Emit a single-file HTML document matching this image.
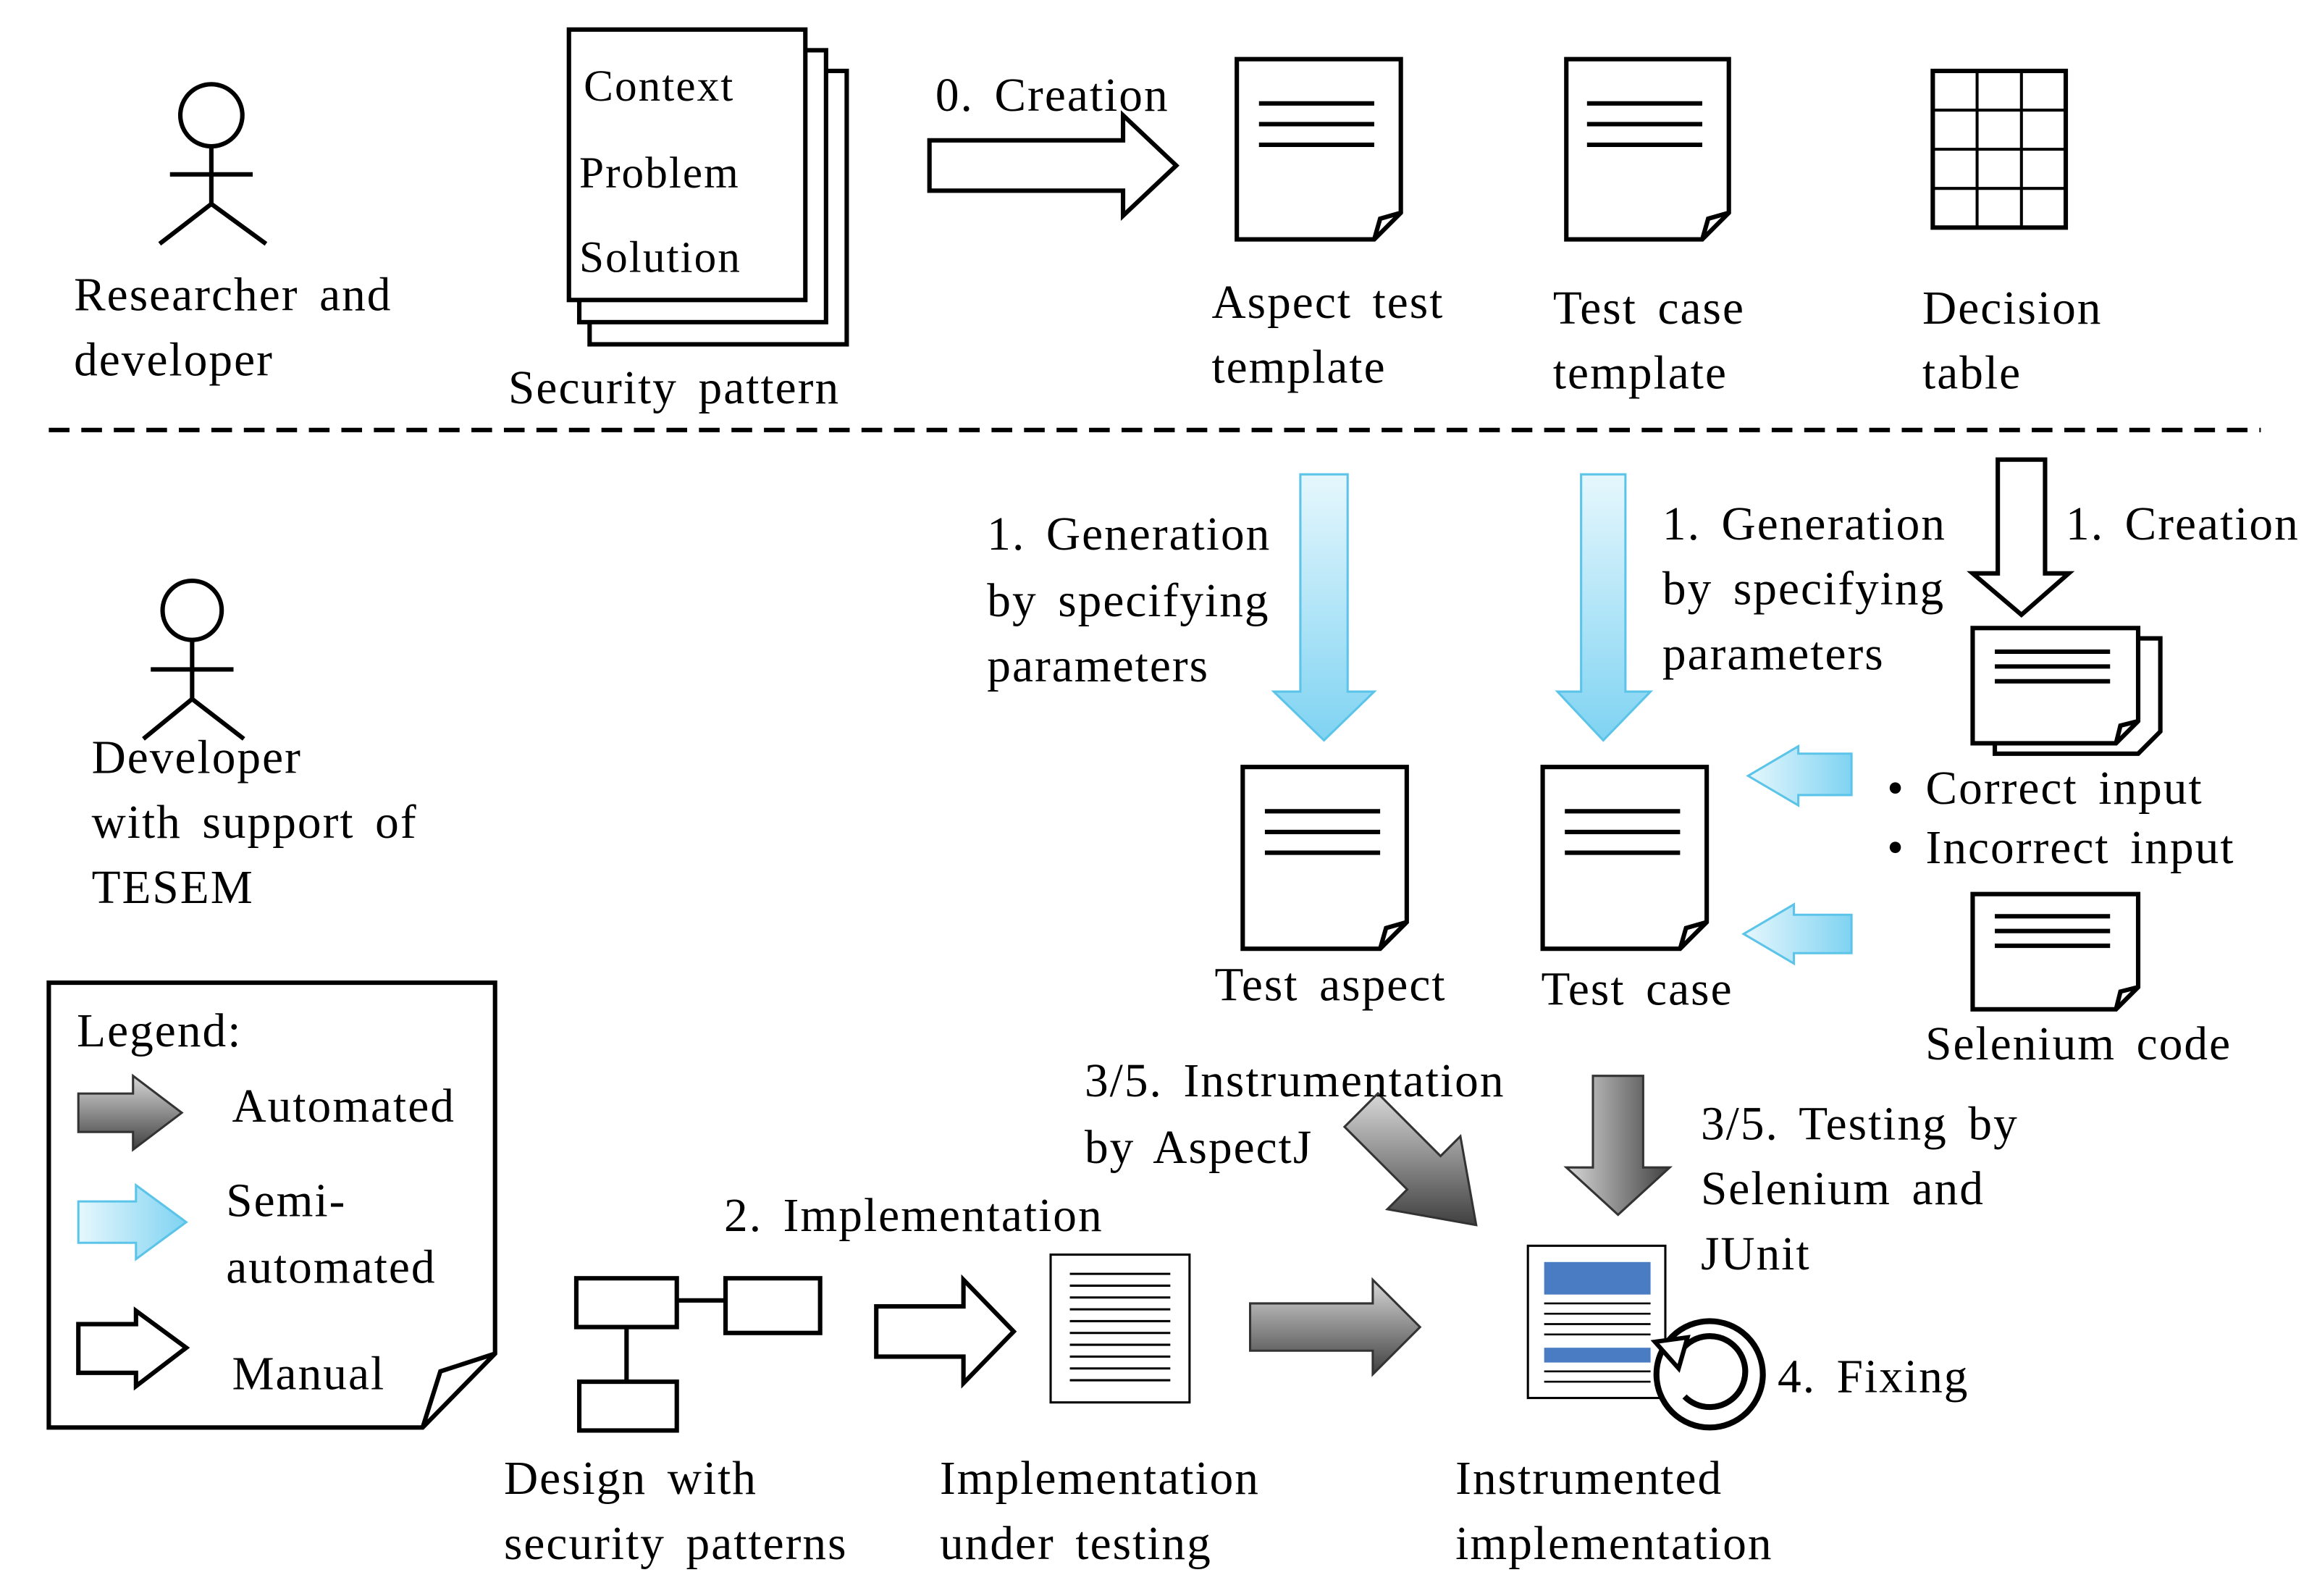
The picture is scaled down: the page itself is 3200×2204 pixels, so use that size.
<!DOCTYPE html>
<html><head><meta charset="utf-8"><style>html,body{margin:0;padding:0;background:#fff}svg{display:block}</style></head><body>
<svg width="3200" height="2204" viewBox="0 0 1568 1080" xmlns="http://www.w3.org/2000/svg" font-family="Liberation Serif, serif" font-size="32" fill="#000">
<defs>
<linearGradient id="lb" x1="0" y1="0" x2="1" y2="0"><stop offset="0" stop-color="#e6f7fd"/><stop offset="1" stop-color="#7fd3f2"/></linearGradient>
<linearGradient id="lbv" x1="0" y1="0" x2="0" y2="1"><stop offset="0" stop-color="#e6f7fd"/><stop offset="1" stop-color="#7fd3f2"/></linearGradient>
<linearGradient id="gr" x1="0" y1="0" x2="0" y2="1"><stop offset="0" stop-color="#d8d8d8"/><stop offset="1" stop-color="#404040"/></linearGradient>
<linearGradient id="grh" x1="0" y1="0" x2="1" y2="0"><stop offset="0" stop-color="#d8d8d8"/><stop offset="1" stop-color="#404040"/></linearGradient>
</defs>
<g stroke="#000" stroke-width="3" fill="none">
<circle cx="143" cy="78" r="21" fill="#fff"/><path d="M143 99V138M115 118H171M143 138L108 165M143 138L180 165"/>
<circle cx="130" cy="413" r="20" fill="#fff"/><path d="M130 433V473M102 453H158M130 473L97 500M130 473L165 500"/>
<rect x="399" y="48" width="174" height="185" fill="#fff"/>
<rect x="392" y="34" width="167" height="184" fill="#fff"/>
<rect x="385" y="20" width="160" height="183" fill="#fff"/>
<path d="M629 95H760V78L796 112L760 146V129H629Z" fill="#fff"/>
<path d="M837 40H948V144L930 162H837Z M930 162L934 148L948 144" fill="#fff"/>
<path d="M852 70H930M852 84H930M852 98H930"/>
<path d="M1060 40H1170V144L1152 162H1060Z M1152 162L1156 148L1170 144" fill="#fff"/>
<path d="M1074 70H1152M1074 84H1152M1074 98H1152"/>
<rect x="1308" y="48" width="90" height="106"/>
<path d="M1338 48V154M1368 48V154M1308 74.5H1398M1308 101H1398M1308 127.5H1398" stroke-width="2"/>
<path d="M33 291H1530" stroke-dasharray="14 8"/>
<path d="M1352 311H1384V388H1400L1368 416L1335 388H1352Z" fill="#fff"/>
<path d="M1350 432H1462V495L1447 510H1350Z" fill="#fff"/>
<path d="M1335 425H1447V488L1432 503H1335Z M1432 503L1435 491L1447 488" fill="#fff"/>
<path d="M1350 441H1428M1350 451H1428M1350 461H1428"/>
<path d="M1335 605H1447V668L1432 683H1335Z M1432 683L1435 671L1447 668" fill="#fff"/>
<path d="M1350 620H1428M1350 630H1428M1350 640H1428"/>
<path d="M841 519H952V624L934 642H841Z M934 642L938 628L952 624" fill="#fff"/>
<path d="M856 549H934M856 563H934M856 577H934"/>
<path d="M1044 519H1155V624L1137 642H1044Z M1137 642L1141 628L1155 624" fill="#fff"/>
<path d="M1059 549H1137M1059 563H1137M1059 577H1137"/>
<path d="M33 665H335V916L286 966H33Z M286 966L298 928L335 916" fill="#fff"/>
<path d="M53 896H92V887L126 912L92 938V929H53Z" fill="#fff"/>
<rect x="390" y="865" width="68" height="33"/><rect x="491" y="865" width="64" height="37"/><rect x="392" y="935" width="66" height="33"/>
<path d="M458 880H491M424 898V935"/>
<path d="M593 884H652V866L686 901L652 936V918H593Z" fill="#fff"/>
</g>
<g stroke="#5bc4e8" stroke-width="1.5">
<path d="M880 321H912V468H930L896 501L862 468H880Z" fill="url(#lbv)"/>
<path d="M1070 321H1100V468H1117L1085 501L1054 468H1070Z" fill="url(#lbv)"/>
<path d="M1253 510H1217V505L1183 525L1217 545V538H1253Z" fill="url(#lb)"/>
<path d="M1253 619H1214V612L1180 632L1214 652V645H1253Z" fill="url(#lb)"/>
<path d="M53 813H92V802L126 827L92 852V841H53Z" fill="url(#lb)"/>
</g>
<g stroke="#333" stroke-width="1.5">
<path d="M53 740H90V728L123 753L90 778V766H53Z" fill="url(#gr)"/>
<path d="M1078 728H1112V790H1130L1095 822L1060 790H1078Z" fill="url(#grh)"/>
<path d="M932.5 739.9L974.9 782.3L988.3 768.9L999 829L938.9 818.3L952.3 804.9L909.9 762.5Z" fill="url(#gr)"/>
<path d="M846 882H929V866L961 898L929 930V914H846Z" fill="url(#gr)"/>
</g>
<rect x="711" y="849" width="94" height="100" fill="#fff" stroke="#000" stroke-width="1.5"/>
<g stroke="#000" stroke-width="1.5">
<path d="M724 862H792M724 870H792M724 878H792M724 886H792M724 894H792M724 902H792M724 910H792M724 918H792M724 926H792M724 934H792"/>
</g>
<rect x="1034" y="843" width="93" height="103" fill="#fff" stroke="#000" stroke-width="1.5"/>
<rect x="1045" y="854" width="72" height="22" fill="#4a7cc4"/>
<rect x="1045" y="912" width="72" height="10" fill="#4a7cc4"/>
<g stroke="#000" stroke-width="1.3"><path d="M1045 882H1117M1045 889H1117M1045 896H1117M1045 903H1117M1045 928H1117M1045 935H1117"/></g>
<circle cx="1157" cy="930" r="36" fill="#fff" stroke="#000" stroke-width="4"/>
<path d="M1137 915A24 24 0 1 1 1140 945" fill="none" stroke="#000" stroke-width="4"/>
<path d="M1120 908L1142 905L1136 926Z" fill="#fff" stroke="#000" stroke-width="3"/>
<g letter-spacing="1" word-spacing="5">
<text x="50" y="210">Researcher and</text><text x="50" y="254">developer</text>
<text x="395" y="68" font-size="30">Context</text><text x="392" y="127" font-size="30">Problem</text><text x="392" y="184" font-size="30">Solution</text>
<text x="344" y="273">Security pattern</text>
<text x="633" y="75">0. Creation</text>
<text x="820" y="215">Aspect test</text><text x="820" y="259">template</text>
<text x="1051" y="219">Test case</text><text x="1051" y="263">template</text>
<text x="1301" y="219">Decision</text><text x="1301" y="263">table</text>
<text x="62" y="523">Developer</text><text x="62" y="567">with support of</text><text x="62" y="611">TESEM</text>
<text x="668" y="372">1. Generation</text><text x="668" y="417">by specifying</text><text x="668" y="461">parameters</text>
<text x="1125" y="365">1. Generation</text><text x="1125" y="409">by specifying</text><text x="1125" y="453">parameters</text>
<text x="1398" y="365">1. Creation</text>
<text x="1277" y="544">• Correct input</text><text x="1277" y="584">• Incorrect input</text>
<text x="1303" y="717">Selenium code</text>
<text x="822" y="677">Test aspect</text><text x="1043" y="680">Test case</text>
<text x="52" y="708">Legend:</text><text x="157" y="759">Automated</text>
<text x="153" y="823">Semi-</text><text x="153" y="868">automated</text><text x="157" y="940">Manual</text>
<text x="734" y="742">3/5. Instrumentation</text><text x="734" y="787">by AspectJ</text>
<text x="1151" y="771">3/5. Testing by</text><text x="1151" y="815">Selenium and</text><text x="1151" y="859">JUnit</text>
<text x="490" y="833">2. Implementation</text>
<text x="1203" y="942">4. Fixing</text>
<text x="341" y="1011">Design with</text><text x="341" y="1055">security patterns</text>
<text x="636" y="1011">Implementation</text><text x="636" y="1055">under testing</text>
<text x="985" y="1011">Instrumented</text><text x="985" y="1055">implementation</text>
</g>
</svg>
</body></html>
